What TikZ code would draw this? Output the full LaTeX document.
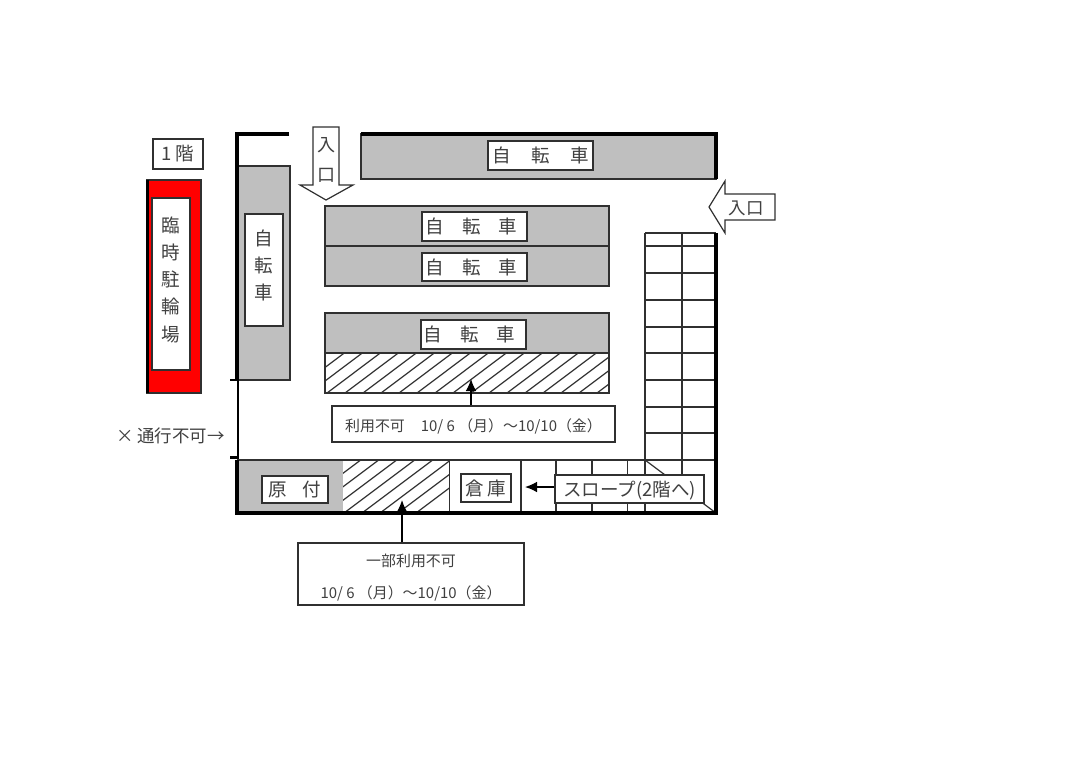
\documentclass[tikz,border=0pt]{standalone}
\usepackage{fontspec}
\setmainfont{Noto Sans CJK JP}
\usetikzlibrary{arrows.meta}
\definecolor{inkgray}{HTML}{404040}
\definecolor{linegray}{HTML}{303030}
\definecolor{bikegray}{HTML}{BFBFBF}
\tikzset{
  wall/.style={line width=2.4pt, black},
  thinline/.style={line width=0.9pt, linegray},
  labelbox/.style 2 args={draw=linegray, line width=0.9pt, fill=white, text=inkgray,
    inner sep=0pt, align=center, font=\fontsize{13.9}{20.4}\selectfont,
    minimum width=#1*0.75pt, minimum height=#2*0.75pt},
  plaintext/.style={text=inkgray, inner sep=0pt, font=\fontsize{13.1}{15}\selectfont},
  pointer/.style={line width=1pt, black, -{Latex[length=9pt,width=8pt]}},
}
\newcommand{\wgap}{\hspace{15.5pt}}
\newcommand{\ngap}{\hspace{13.5pt}}
\newcommand{\liftup}{\rule[-7.6pt]{0pt}{1pt}}
\newcommand{\pushdown}[1]{\rule{0pt}{#1}}
\begin{document}
\begin{tikzpicture}[x=0.75pt, y=-0.75pt]
    \useasboundingbox (0,0) rectangle (1080,764);

    % Gray bicycle areas
    \fill[bikegray] (361,134) rectangle (716,179);
    \fill[bikegray] (237,166) rectangle (290,380);
    \fill[bikegray] (325,206) rectangle (609,286);
    \fill[bikegray] (325,313) rectangle (609,353);
    \fill[bikegray] (237,460) rectangle (343,513);
    \draw[thinline] (361,134) rectangle (716,179);
    \draw[thinline] (237,166) rectangle (290,380);
    \draw[thinline] (325,206) rectangle (609,246);
    \draw[thinline] (325,246) rectangle (609,286);
    \draw[thinline] (325,313) rectangle (609,353);

    % Red temporary area
    \fill[red] (147,180) rectangle (201,393);
    \draw[thinline] (147,180) rectangle (201,393);
    \draw[line width=1.8pt, black] (147.5,180) -- (147.5,393);

    % Hatched area (middle)
    \begin{scope}
        \clip (325,353) rectangle (609,393);
        \foreach \hx in {255,273,...,615}
            \draw[thinline] (\hx,393) -- ++(53.3,-40);
    \end{scope}
    \draw[thinline] (325,353) rectangle (609,393);

    % Hatched area (bottom)
    \begin{scope}
        \clip (343,460) rectangle (449,513);
        \foreach \hx in {272,290,...,432}
            \draw[thinline] (\hx,513) -- ++(70.7,-53);
    \end{scope}

    % Slope and stairs grid
    \foreach \ly in {233,246,273,300,327,353,380,407,433,460}
        \draw[thinline] (645,\ly) -- (716,\ly);
    \draw[thinline] (645,233) -- (645,513);
    \draw[thinline] (682,233) -- (682,475);
    \draw[thinline] (237,460) -- (716,460);
    \foreach \lx in {449.5,521,556,592,627.5}
        \draw[thinline] (\lx,460) -- (\lx,513);
    \draw[thinline] (645,460) -- (716,513);

    % Walls
    \draw[wall] (289,134) -- (237,134) -- (237,380);
    \draw[line width=1.8pt, black] (230,380) -- (238,380) -- (238,457.5) -- (230,457.5);
    \draw[wall] (237,460) -- (237,513) -- (716,513) -- (716,233);
    \draw[wall] (361,134) -- (716,134) -- (716,179);

    % Entrance arrows
    \draw[thinline, fill=white] (313,127) -- (339,127) -- (339,185) -- (353,185) -- (326,200)
        -- (300,185) -- (313,185) -- cycle;
    \draw[thinline, fill=white] (775,194) -- (775,220) -- (725,220) -- (725,233) -- (709,207)
        -- (725,181) -- (725,194) -- cycle;
    \node[plaintext, align=center, font=\fontsize{13.5}{22.8}\selectfont] (entrytop) at (326.5,160) {入\\口};
    \node[plaintext] (entryright) at (746,208.5) {入口};

    % Labels
    \node[labelbox={50}{30}] (floor) at (178,154) {1 階};
    \node[labelbox={38}{172}] (tempbike) at (171,284) {臨\\時\\駐\\輪\\場\liftup};
    \node[labelbox={38}{112}] (bikeleft) at (264,270) {自\\転\\車\liftup};
    \node[labelbox={105}{29}] (biketop) at (540.5,155.5) {自\wgap 転\wgap 車};
    \node[labelbox={105}{29}] (bikeone) at (474.5,226.5) {自\ngap 転\ngap 車\hspace{4.5pt}};
    \node[labelbox={105}{28}] (biketwo) at (474.5,267) {自\ngap 転\ngap 車\hspace{4.5pt}};
    \node[labelbox={105}{29}] (bikethree) at (473.5,334.5) {自\ngap 転\ngap 車\hspace{6pt}};
    \node[labelbox={66}{27}] (moped) at (295,489.5) {原\hspace{12pt}付};
    \node[labelbox={50}{28}] (store) at (486,488) {倉\hspace{3pt}庫};
    \node[labelbox={149}{28}] (slope) at (629.5,489) {\pushdown{13.5pt}スロープ(2階へ)};
    \node[labelbox={283}{36}, font=\fontsize{11.2}{13}\selectfont] (closedmid) at (473.5,424)
        {\pushdown{13pt}利用不可\hspace{12pt}10/ 6 （月）～10/10（金）};
    \node[labelbox={226}{62}, font=\fontsize{11.2}{23.5}\selectfont] (closedbottom) at (411,574)
        {\pushdown{14.5pt}一部利用不可\\10/ 6 （月）～10/10（金）};
    \node[plaintext] (noentry) at (170.5,436) {× 通行不可→};

    % Arrow targets and pointers
    \coordinate (hatchmid) at (471,379);
    \coordinate (hatchbottom) at (402,500);
    \coordinate (storeedge) at (525,487);
    \draw[pointer] (closedmid.north -| hatchmid) -- (hatchmid);
    \draw[pointer] (closedbottom.north -| hatchbottom) -- (hatchbottom);
    \draw[pointer] (slope.west |- storeedge) -- (storeedge);
\end{tikzpicture}
\end{document}
